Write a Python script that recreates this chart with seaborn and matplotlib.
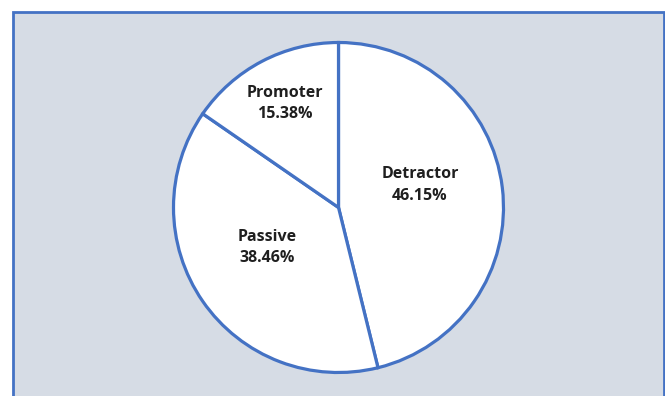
import matplotlib
matplotlib.use("Agg")
import matplotlib.pyplot as plt
import matplotlib.patches as mpatches
import seaborn as sns

# Net promoter breakdown
categories = ["Detractor", "Passive", "Promoter"]
shares = [46.15, 38.46, 15.38]

sns.set_style("white")
plt.rcParams["font.family"] = ["Open Sans", "DejaVu Sans"]

W, H = 665, 396
fig = plt.figure(figsize=(W / 100, H / 100), dpi=100)
fig.patch.set_facecolor("white")

# Background axes holding the chart-area panel
bg = fig.add_axes([0, 0, 1, 1], zorder=-1)
bg.set_xlim(0, W)
bg.set_ylim(H, 0)
bg.axis("off")
bg.add_patch(mpatches.Rectangle(
    (12.5, 11.5), 663.5 - 12.5, H, facecolor="#D6DCE5",
    edgecolor="#4472C4", linewidth=2.0, clip_on=False))

# Pie axes: centre (338.5, 207.5) px, radius 165 px
cx, cy, R = 338.5, 207.5, 165
ax = fig.add_axes([(cx - R) / W, (H - cy - R) / H, 2 * R / W, 2 * R / H])

wedges, _ = ax.pie(
    shares, startangle=90, counterclock=False, radius=1,
    colors=["white"] * len(shares),
    wedgeprops=dict(edgecolor="#4472C4", linewidth=2.3),
)
for w in wedges:
    w.set_clip_on(False)
ax.set_xlim(-1, 1)
ax.set_ylim(-1, 1)
ax.set_aspect("equal")
ax.axis("off")

# Label positions (axes data units, radius = 1)
label_pos = [(0.494, 0.136), (-0.430, -0.242), (-0.324, 0.630)]
for name, val, (x, y) in zip(categories, shares, label_pos):
    ax.text(x, y, f"{name}\n{val:.2f}%", ha="center", va="center",
            fontsize=11.5, fontweight="bold", color="#1f1f1f",
            linespacing=1.45)

fig.savefig("out.png", dpi=100, facecolor=fig.get_facecolor())
